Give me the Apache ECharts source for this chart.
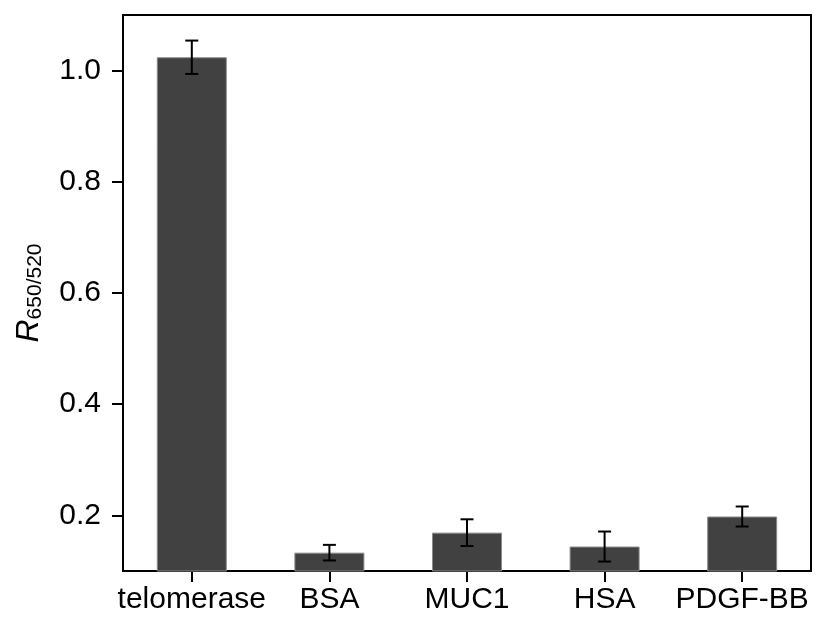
<!DOCTYPE html>
<html>
<head>
<meta charset="utf-8">
<script src="https://cdn.jsdelivr.net/npm/echarts@6/dist/echarts.min.js"></script>
<style>
html,body{margin:0;padding:0;background:#fff;}
#chart{width:823px;height:622px;}
</style>
</head>
<body>
<div id="chart"></div>
<script>
const categories = ['telomerase', 'BSA', 'MUC1', 'HSA', 'PDGF-BB'];
const means = [1.024, 0.133, 0.169, 0.144, 0.198];
const errors = [0.030, 0.014, 0.024, 0.027, 0.018];
const yTicks = [0.2, 0.4, 0.6, 0.8, 1.0];

const font = '"Liberation Sans", Arial, Helvetica, sans-serif';
const chart = echarts.init(document.getElementById('chart'));

const errData = categories.map((c, i) => [i, means[i] - errors[i], means[i] + errors[i]]);

chart.setOption({
  backgroundColor: '#ffffff',
  animation: false,
  grid: {
    left: 123, right: 12, top: 15, bottom: 51,
    show: true, borderColor: '#000', borderWidth: 2, backgroundColor: 'transparent'
  },
  xAxis: {
    type: 'category',
    data: categories,
    axisLine: { show: true, lineStyle: { color: '#000', width: 2 } },
    axisTick: { show: true, alignWithLabel: true, length: 11, lineStyle: { color: '#000', width: 2 } },
    axisLabel: { color: '#000', fontSize: 30, fontFamily: font, margin: 14, interval: 0 },
    splitLine: { show: false }
  },
  yAxis: {
    type: 'value',
    min: 0.1,
    max: 1.1,
    name: '{r|R}{s|650/520}',
    nameLocation: 'middle',
    nameRotate: 90,
    nameGap: 77,
    nameTextStyle: {
      rich: {
        r: { fontSize: 32, fontStyle: 'italic', fontFamily: font, color: '#000' },
        s: { fontSize: 21, fontFamily: font, color: '#000', padding: [12, 0, 0, 0] }
      }
    },
    axisLine: { show: true, lineStyle: { color: '#000', width: 2 } },
    axisTick: { show: true, length: 11, customValues: yTicks, lineStyle: { color: '#000', width: 2 } },
    axisLabel: {
      color: '#000', fontSize: 30, fontFamily: font, margin: 22,
      customValues: yTicks,
      formatter: v => v.toFixed(1)
    },
    splitLine: { show: false }
  },
  series: [
    {
      type: 'bar',
      data: means,
      barWidth: 70,
      clip: true,
      itemStyle: { color: '#414141', borderColor: '#8a8a8a', borderWidth: 1 }
    },
    {
      type: 'custom',
      data: errData,
      z: 10,
      renderItem: function (params, api) {
        const x = api.value(0);
        const lo = api.coord([x, api.value(1)]);
        const hi = api.coord([x, api.value(2)]);
        const hw = 6.5;
        const style = { stroke: '#000', lineWidth: 2 };
        return {
          type: 'group',
          children: [
            { type: 'line', shape: { x1: lo[0], y1: lo[1], x2: hi[0], y2: hi[1] }, style },
            { type: 'line', shape: { x1: hi[0] - hw, y1: hi[1], x2: hi[0] + hw, y2: hi[1] }, style },
            { type: 'line', shape: { x1: lo[0] - hw, y1: lo[1], x2: lo[0] + hw, y2: lo[1] }, style }
          ]
        };
      }
    }
  ]
});
</script>
</body>
</html>
